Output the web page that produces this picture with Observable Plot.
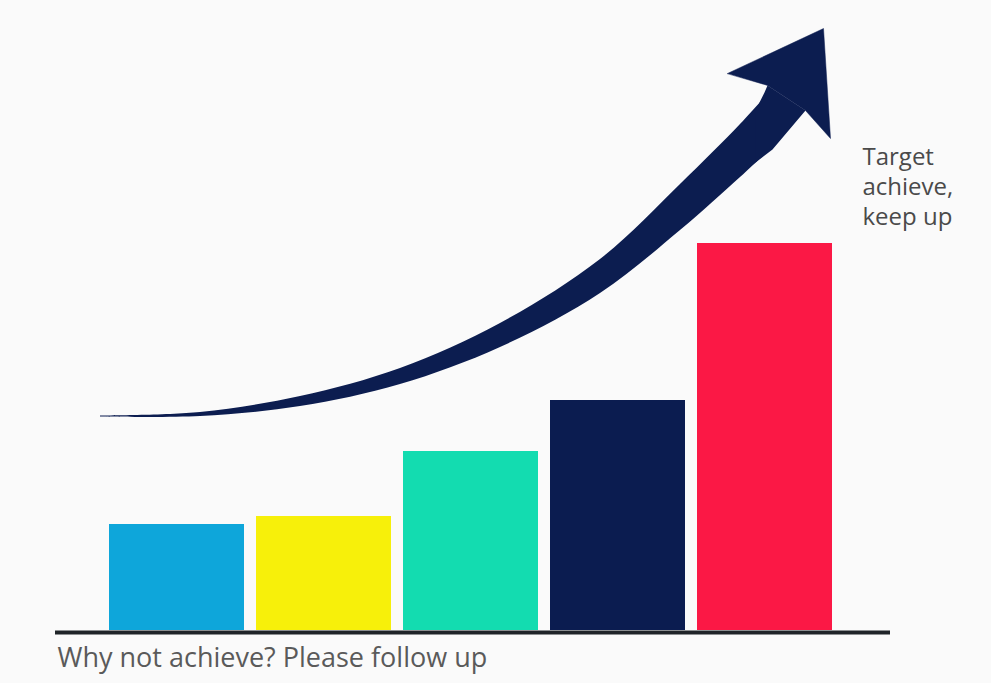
<!DOCTYPE html>
<html>
<head>
<meta charset="utf-8">
<script src="https://cdn.jsdelivr.net/npm/d3@7"></script>
<script src="https://cdn.jsdelivr.net/npm/@observablehq/plot@0.6"></script>
<style>
  html, body { margin: 0; padding: 0; background: #fafafa; }
  #wrap { position: relative; width: 991px; height: 683px; }
  #wrap svg { position: absolute; left: 0; top: 0; }
</style>
</head>
<body>
<div id="wrap"></div>
<script>
// ---- data ----
const categories = ["1", "2", "3", "4", "5"];
const values = [106, 114, 179, 230, 387];
const barColors = ["#0ea6da", "#f7f00a", "#13dcb0", "#0b1c50", "#fb1845"];
const bottomNote = "Why not achieve? Please follow up";
const topNote = "Target\nachieve,\nkeep up";

// arrow shaft (chart units): x, upper edge, lower edge
const shaftX     = [100, 200, 300, 400, 500, 600, 680, 740, 770];
const shaftUpper = [415.5, 412, 396, 368, 323, 259, 184, 124, 91];
const shaftLower = [416.5, 416, 406, 384, 347, 293, 230, 177, 149];
// joint between shaft end and arrow head (overlaps the shaft)
const jointX = [755, 764, 767, 805, 772, 755];
const jointY = [110, 92, 85, 110, 149, 162];
// arrow head outline
const headX = [727, 823, 830, 805, 767];
const headY = [73, 28, 138, 110, 85];

const data = categories.map((c, i) => ({cat: c, value: values[i], color: barColors[i]}));
const shaft = shaftX.map((x, i) => ({x, y1: shaftUpper[i], y2: shaftLower[i]}));
const joint = jointX.map((x, i) => ({x, y: jointY[i]}));
const head = headX.map((x, i) => ({x, y: headY[i]}));

const font = "'Open Sans', Lato, sans-serif";
const arrowColor = "#0c1d50";

const arrowPlot = Plot.plot({
  width: 991, height: 683,
  marginTop: 0, marginBottom: 0, marginLeft: 0, marginRight: 0,
  style: {background: "transparent"},
  x: {domain: [0, 991], range: [0, 991], axis: null},
  y: {domain: [0, 683], range: [0, 683], axis: null},
  marks: [
    Plot.areaY(shaft, {x: "x", y1: "y1", y2: "y2", curve: "catmull-rom", fill: arrowColor}),
    Plot.line(joint, {x: "x", y: "y", curve: "linear-closed", fill: arrowColor, stroke: "none"}),
    Plot.line(head, {x: "x", y: "y", curve: "linear-closed", fill: arrowColor, stroke: arrowColor, strokeWidth: 0.5})
  ]
});

const barPlot = Plot.plot({
  width: 991, height: 683,
  marginTop: 210, marginBottom: 53, marginLeft: 55, marginRight: 101,
  style: {background: "transparent", overflow: "visible"},
  x: {domain: categories, paddingInner: 0.083, paddingOuter: 0.377, align: 0.477, axis: null},
  y: {domain: [0, 420], axis: null},
  marks: [
    Plot.barY(data, {x: "cat", y: "value", fill: "color"}),
    Plot.ruleY([0], {stroke: "#1f2428", strokeWidth: 4, dy: 2}),
    Plot.text([bottomNote], {frameAnchor: "bottom-left", textAnchor: "start", lineAnchor: "top", dx: 2, dy: 17, fontSize: 27, fill: "#5a5a5a", fontFamily: font}),
    Plot.text([topNote], {frameAnchor: "top-right", textAnchor: "start", lineAnchor: "top", dx: -28, dy: -67, fontSize: 24, lineHeight: 1.25, fill: "#4a4a4a", fontFamily: font})
  ]
});

const wrap = document.getElementById("wrap");
wrap.appendChild(arrowPlot);
wrap.appendChild(barPlot);
</script>
</body>
</html>
